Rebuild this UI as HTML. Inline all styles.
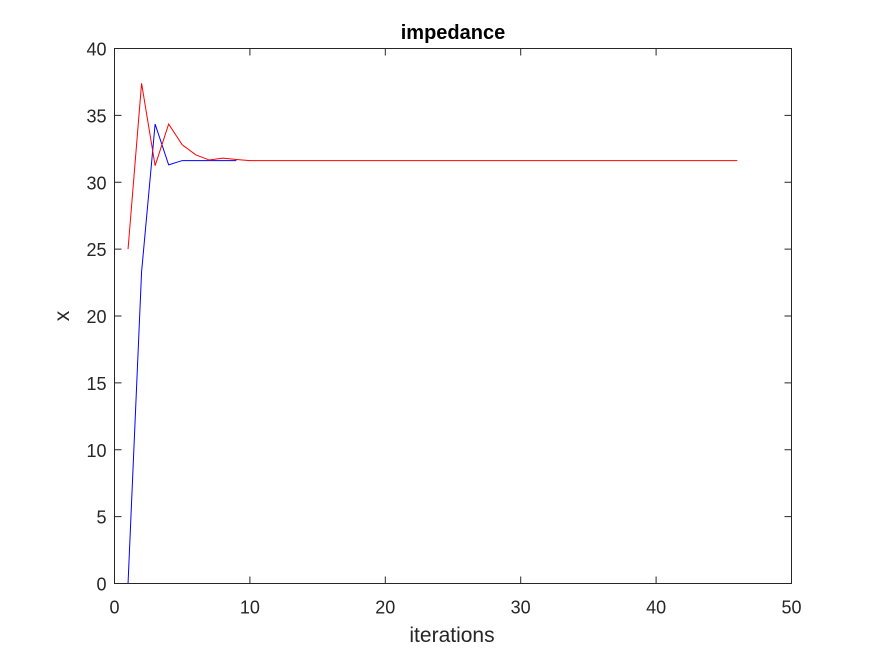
<!DOCTYPE html>
<html><head><meta charset="utf-8"><style>
body{margin:0;background:#fff;}
svg text{font-family:"Liberation Sans",sans-serif;}
</style></head><body>
<svg id="chart" width="875" height="656" xmlns="http://www.w3.org/2000/svg">
<rect x="0" y="0" width="875" height="656" fill="#fff"/>
<text x="453" y="39" text-anchor="middle" font-size="20" font-weight="bold">impedance</text>
<text x="452" y="642" text-anchor="middle" font-size="21" fill="#262626">iterations</text>
<text transform="translate(69,316) rotate(-90)" text-anchor="middle" font-size="21" fill="#262626">x</text>
<g id="ticks"></g>
<g id="series"></g>
<rect x="114.5" y="48.5" width="677" height="535" fill="none" stroke="#262626" stroke-width="1"/>
</svg>
<script>
const xTicks=[0,10,20,30,40,50];
const yTicks=[0,5,10,15,20,25,30,35,40];
const redX=[1,2,3,4,5,6,7,8,9,10,46];
const redY=[25,37.4,31.24,34.35,32.8,32.05,31.66,31.8,31.7,31.62,31.62];
const blueX=[1,2,3,4,5,6,7,8,9];
const blueY=[0,23.3,34.35,31.3,31.62,31.62,31.62,31.62,31.62];
const X0=114.5,X1=791.5,Y0=583.5,Y1=48.5;
function sx(v){return X0+(v-0)/(50-0)*(X1-X0);}
function sy(v){return Y0-(v-0)/(40-0)*(Y0-Y1);}
const NS="http://www.w3.org/2000/svg";
const tg=document.getElementById('ticks');
xTicks.forEach(t=>{
  const l=document.createElementNS(NS,'line');
  
  
  l.setAttribute('x1',sx(t));l.setAttribute('x2',sx(t));
  l.setAttribute('y1',Y0);l.setAttribute('y2',Y0-7);
  l.setAttribute('stroke','#262626');tg.appendChild(l);
  const l2=document.createElementNS(NS,'line');
  
  
  l2.setAttribute('x1',sx(t));l2.setAttribute('x2',sx(t));
  l2.setAttribute('y1',Y1);l2.setAttribute('y2',Y1+7);
  l2.setAttribute('stroke','#262626');tg.appendChild(l2);
  const tx=document.createElementNS(NS,'text');
  
  
  tx.setAttribute('x',sx(t));tx.setAttribute('y',Y0+30);
  tx.setAttribute('text-anchor','middle');tx.setAttribute('font-size','18');tx.setAttribute('fill','#262626');
  tx.textContent=t;tg.appendChild(tx);
});
yTicks.forEach(t=>{
  const l=document.createElementNS(NS,'line');
  
  
  l.setAttribute('x1',X0);l.setAttribute('x2',X0+7);
  l.setAttribute('y1',sy(t));l.setAttribute('y2',sy(t));
  l.setAttribute('stroke','#262626');tg.appendChild(l);
  const l2=document.createElementNS(NS,'line');
  
  
  l2.setAttribute('x1',X1);l2.setAttribute('x2',X1-7);
  l2.setAttribute('y1',sy(t));l2.setAttribute('y2',sy(t));
  l2.setAttribute('stroke','#262626');tg.appendChild(l2);
  const tx=document.createElementNS(NS,'text');
  
  
  tx.setAttribute('x',X0-8);tx.setAttribute('y',sy(t)+7);
  tx.setAttribute('text-anchor','end');tx.setAttribute('font-size','18');tx.setAttribute('fill','#262626');
  tx.textContent=t;tg.appendChild(tx);
});
const sg=document.getElementById('series');
function line(xs,ys,color,name){
  const p=document.createElementNS(NS,'polyline');
  
  
  p.setAttribute('points',xs.map((x,i)=>sx(x)+','+sy(ys[i])).join(' '));
  p.setAttribute('fill','none');p.setAttribute('stroke',color);p.setAttribute('stroke-width','1');
  sg.appendChild(p);
}
line(blueX,blueY,'#0000ff','blue-series-line');
line(redX,redY,'#ff0000','red-series-line');
</script>
</body></html>
